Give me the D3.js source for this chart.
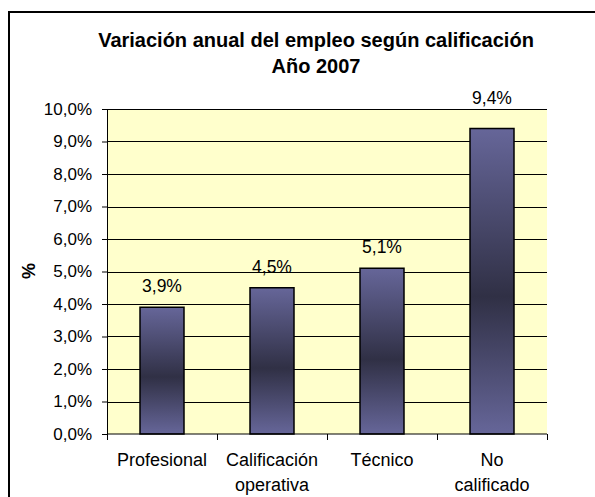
<!DOCTYPE html>
<html>
<head>
    <meta charset="UTF-8">
    <script src="https://d3js.org/d3.v7.min.js"></script>
    <style>
        body { margin: 0; background: #fff; }
        text { font-family: "Liberation Sans", Arial, sans-serif; fill: #000; }
    </style>
</head>
<body>
    <div id="chart"></div>
    <script>
        // data
        var categories = [["Profesional"], ["Calificación", "operativa"], ["Técnico"], ["No", "calificado"]];
        var values = [3.9, 4.5, 5.1, 9.4];
        var yTicks = [0, 1, 2, 3, 4, 5, 6, 7, 8, 9, 10];
        var titleLines = ["Variación anual del empleo según calificación", "Año 2007"];

        var W = 595, H = 497;
        var margin = { top: 109, right: 48, bottom: 63, left: 107 };
        var width = W - margin.left - margin.right,
            height = H - margin.top - margin.bottom;

        var fmt = function (v) { return v.toFixed(1).replace(".", ",") + "%"; };

        var svg = d3.select("#chart").append("svg")
            .attr("width", W)
            .attr("height", H);

        // outer frame
        svg.append("rect")
            .attr("x", 9).attr("y", 12)
            .attr("width", W).attr("height", H)
            .attr("fill", "none")
            .attr("stroke", "#000")
            .attr("stroke-width", 2);

        // bar gradient (light - dark - light)
        var grad = svg.append("defs").append("linearGradient")
            .attr("id", "barGrad")
            .attr("x1", 0).attr("y1", 0).attr("x2", 0).attr("y2", 1);
        grad.append("stop").attr("offset", "0%").attr("stop-color", "#666699");
        grad.append("stop").attr("offset", "55%").attr("stop-color", "#303045");
        grad.append("stop").attr("offset", "100%").attr("stop-color", "#666699");

        // title
        svg.append("g").selectAll("text")
            .data(titleLines)
            .join("text")
            .attr("x", 316)
            .attr("y", function (d, i) { return 47 + i * 26; })
            .attr("text-anchor", "middle")
            .style("font-size", "20px")
            .style("font-weight", "bold")
            .text(function (d) { return d; });

        var g = svg.append("g")
            .attr("transform", "translate(" + margin.left + "," + margin.top + ")");

        var x = d3.scaleBand()
            .domain(d3.range(categories.length))
            .range([0, width])
            .paddingInner(0.6)
            .paddingOuter(0.3);

        var y = d3.scaleLinear()
            .domain([0, 10])
            .range([height, 0]);

        // plot background
        g.append("rect")
            .attr("width", width)
            .attr("height", height)
            .attr("fill", "#FFFFCC");

        // gridlines
        g.selectAll(".grid")
            .data(yTicks.slice(1))
            .join("line")
            .attr("x1", 0).attr("x2", width)
            .attr("y1", function (d) { return Math.round(y(d)) + 0.5; })
            .attr("y2", function (d) { return Math.round(y(d)) + 0.5; })
            .attr("stroke", "#000")
            .attr("stroke-width", 1);

        // bars
        g.selectAll(".bar")
            .data(values)
            .join("rect")
            .attr("x", function (d, i) { return x(i); })
            .attr("y", function (d) { return y(d); })
            .attr("width", x.bandwidth())
            .attr("height", function (d) { return height - y(d); })
            .attr("fill", "url(#barGrad)")
            .attr("stroke", "#000")
            .attr("stroke-width", 1.5);

        // value labels; pushed above the plot top if they would cross it
        g.selectAll(".val")
            .data(values)
            .join("text")
            .attr("x", function (d, i) { return x(i) + x.bandwidth() / 2; })
            .attr("y", function (d) {
                var ly = y(d) - 15;
                return ly - 13 < 0 ? -5 : ly;
            })
            .attr("text-anchor", "middle")
            .style("font-size", "17.5px")
            .text(function (d) { return fmt(d); });

        // y axis
        var yAxis = g.append("g")
            .call(d3.axisLeft(y).tickValues(yTicks).tickFormat(fmt).tickSize(5).tickPadding(10));
        yAxis.selectAll("path, line").attr("stroke", "#000");
        yAxis.selectAll("text")
            .style("font-family", "'Liberation Sans', Arial, sans-serif")
            .style("font-size", "17px");

        // x axis with ticks at category boundaries
        var xAxis = g.append("g")
            .attr("transform", "translate(0," + height + ")");
        xAxis.append("line")
            .attr("x1", 0).attr("x2", width)
            .attr("stroke", "#000");
        xAxis.selectAll(".tick")
            .data(d3.range(categories.length + 1))
            .join("line")
            .attr("x1", function (d) { return Math.round(d * width / categories.length) + 0.5; })
            .attr("x2", function (d) { return Math.round(d * width / categories.length) + 0.5; })
            .attr("y1", 0).attr("y2", 6)
            .attr("stroke", "#000");

        var labels = xAxis.selectAll(".lab")
            .data(categories)
            .join("text")
            .attr("x", function (d, i) { return (i + 0.5) * width / categories.length; })
            .attr("y", 32)
            .attr("text-anchor", "middle")
            .style("font-size", "18px");
        labels.selectAll("tspan")
            .data(function (d) { return d; })
            .join("tspan")
            .attr("x", function () { return this.parentNode.getAttribute("x"); })
            .attr("dy", function (d, i) { return i === 0 ? 0 : 25; })
            .text(function (d) { return d; });

        // y axis title
        svg.append("text")
            .attr("transform", "translate(35,271) rotate(-90)")
            .attr("text-anchor", "middle")
            .style("font-size", "18px")
            .style("font-weight", "bold")
            .text("%");
    </script>
</body>
</html>
